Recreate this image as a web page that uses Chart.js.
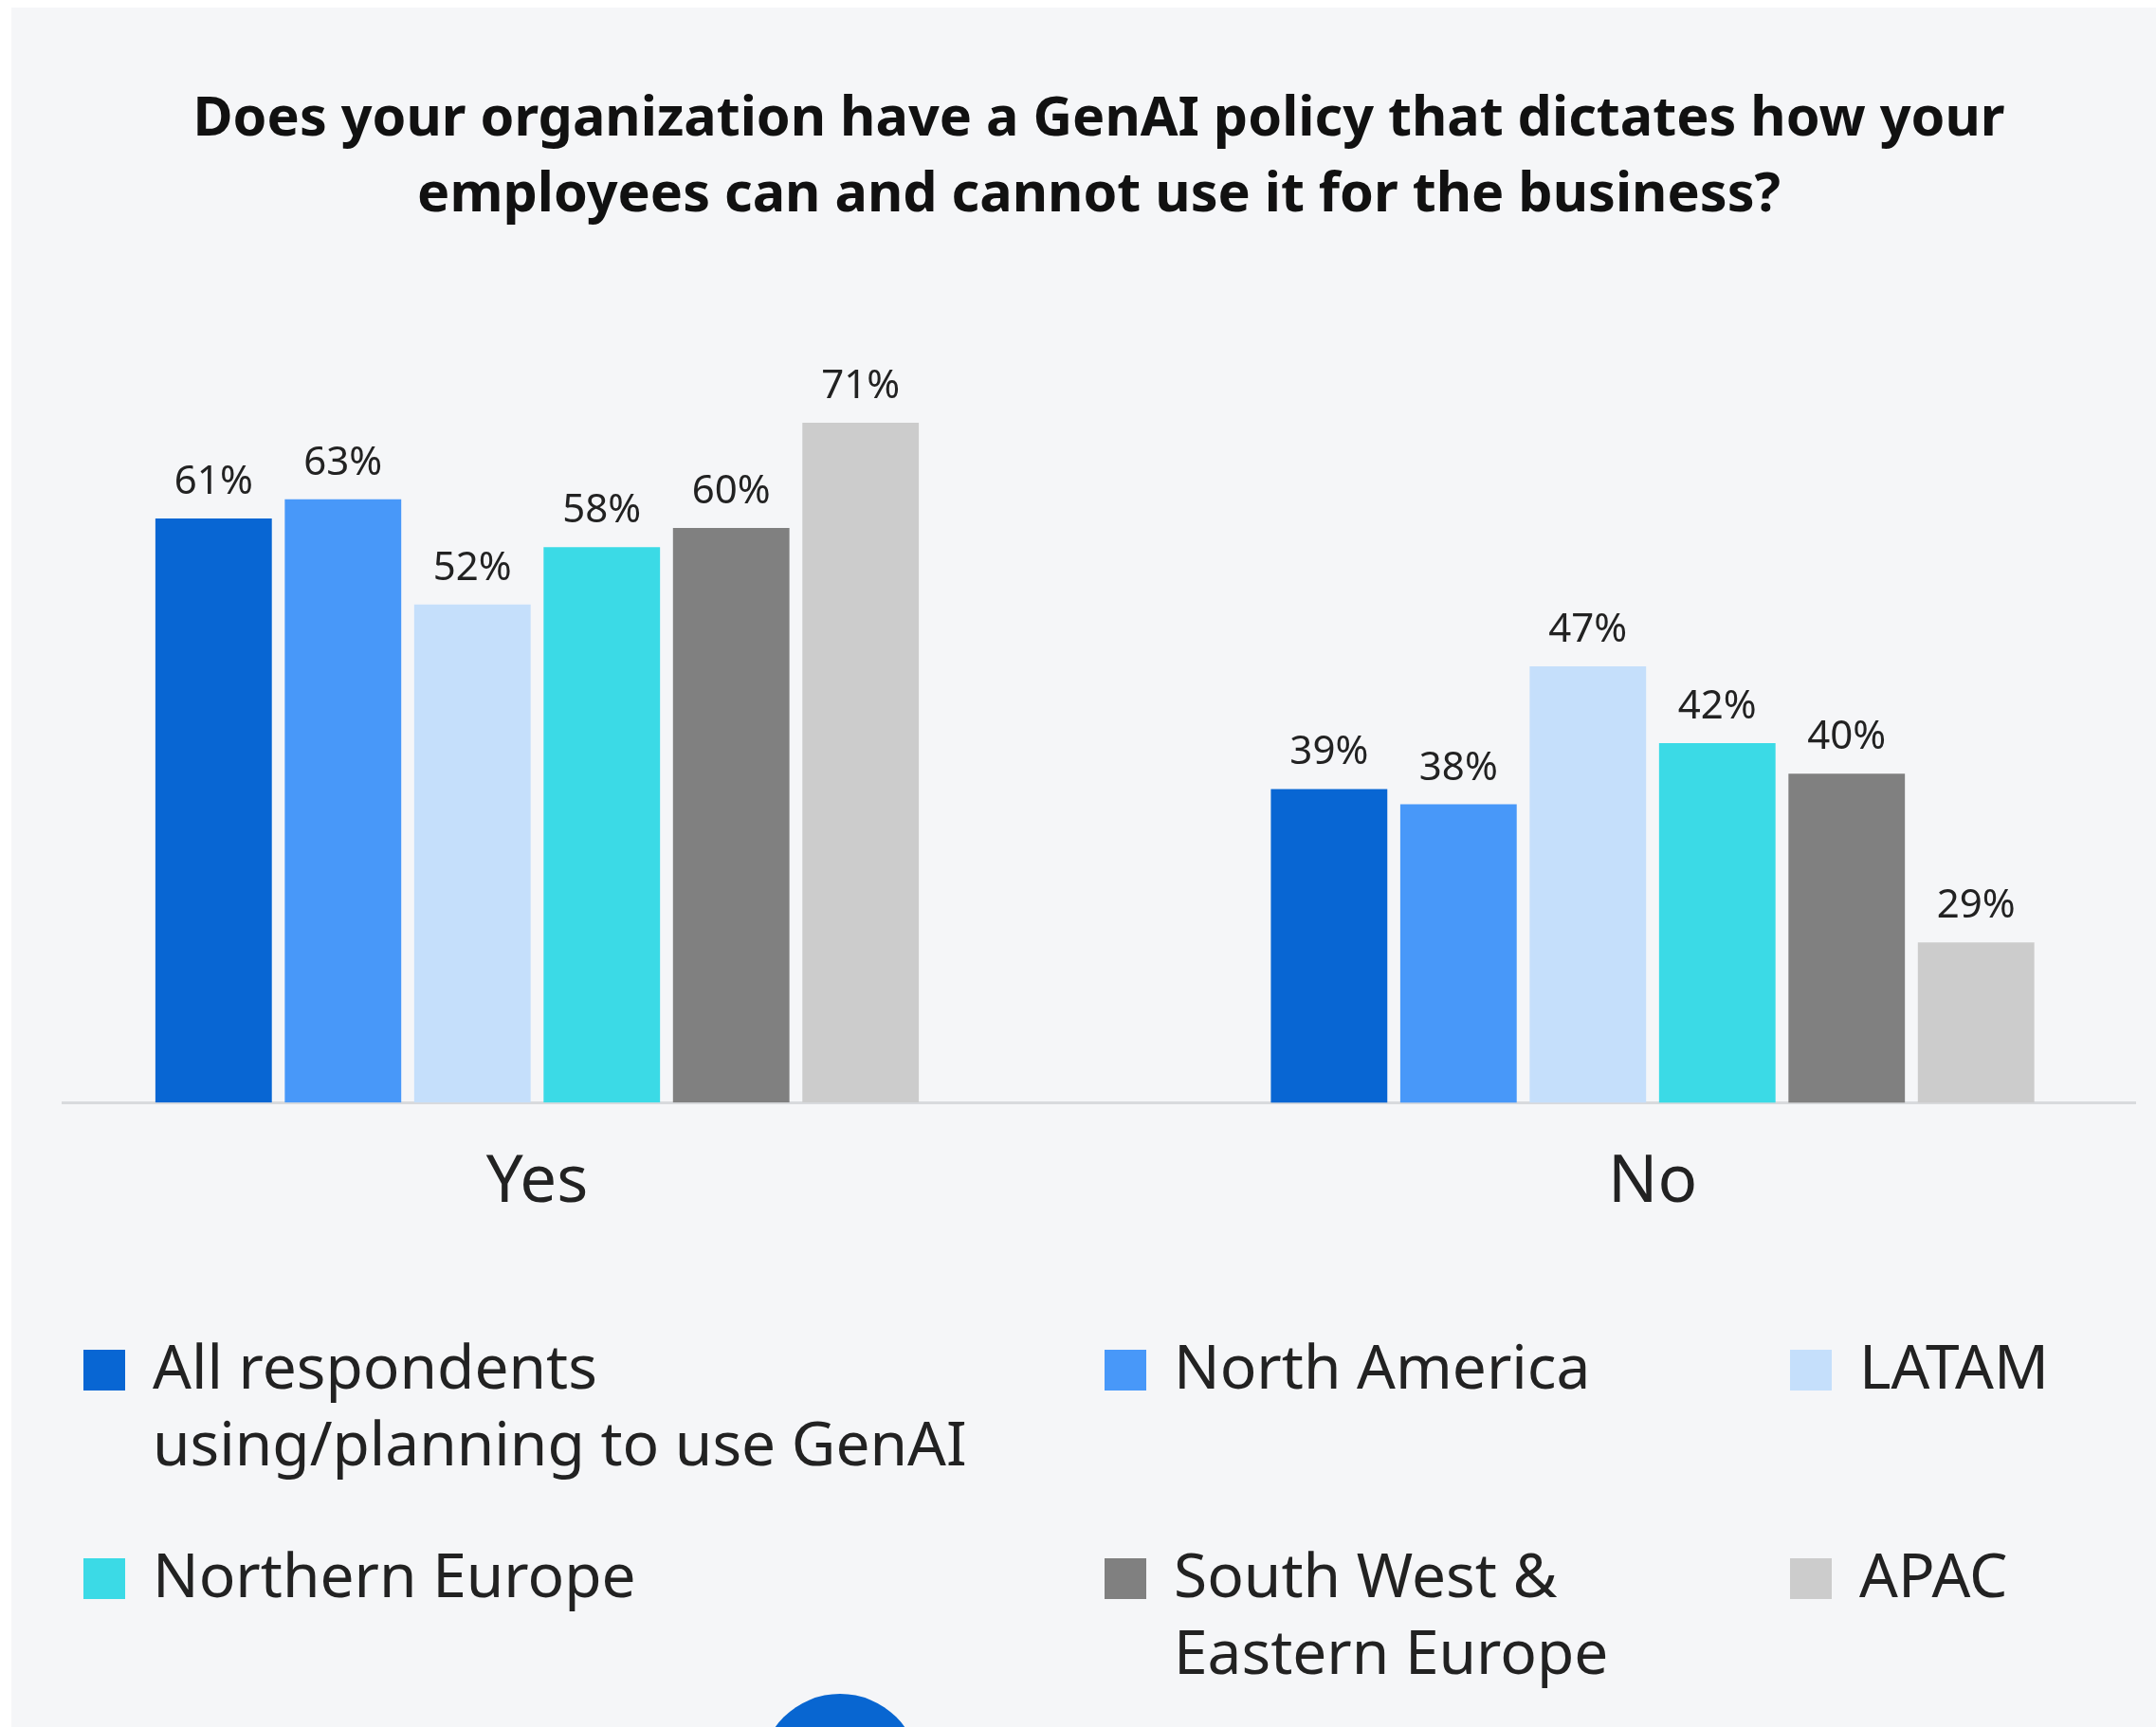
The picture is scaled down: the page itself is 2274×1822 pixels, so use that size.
<!DOCTYPE html>
<html>
<head>
<meta charset="utf-8">
<script src="https://cdn.jsdelivr.net/npm/chart.js@4.4.1/dist/chart.umd.min.js"></script>
<style>
  body { margin: 0; width: 2274px; height: 1822px; overflow: hidden; position: relative; background: #fff; font-family: "Noto Sans", sans-serif; }
  #panel { position: absolute; left: 12px; top: 8px; right: 0; bottom: 0; background: #f5f6f8; }
  #wrap { position: absolute; left: 0; top: 0; }
  #legend { position: absolute; left: 88px; top: 1400px; display: grid; grid-template-columns: 1077px 723px 330px; grid-template-rows: 220px 200px; }
  .item { display: flex; align-items: flex-start; font-size: 64px; line-height: 81px; color: #222; }
  .sw { flex: none; width: 44px; height: 43px; margin-top: 24px; margin-right: 29px; }
  #dot { position: absolute; left: 802px; top: 1787px; width: 168px; height: 168px; border-radius: 50%; background: #0866d1; }
</style>
</head>
<body>
<div id="panel"></div>
<div id="wrap"><canvas id="myChart" width="2274" height="1346"></canvas></div>
<div id="legend"></div>
<div id="dot"></div>
<script>
var categories = ["Yes", "No"];
var regions = ["All respondents using/planning to use GenAI", "North America", "LATAM",
               "Northern Europe", "South West & Eastern Europe", "APAC"];
var allRespondents = [61, 39];
var northAmerica = [63, 38];
var latam = [52, 47];
var northernEurope = [58, 42];
var swEasternEurope = [60, 40];
var apac = [71, 29];
var barColors = ["#0866d3", "#4898f9", "#c5dffb", "#3bdae6", "#808080", "#cccccc"];
var legendWidths = [880, 640, 330];

var seriesValues = [allRespondents, northAmerica, latam, northernEurope, swEasternEurope, apac];

// the "No" bars in the original sit on their own (cut) scale, so each group gets its own y axis
var axisFor = ["y", "y2"];
var datasets = [];
categories.forEach(function (cat, c) {
  seriesValues.forEach(function (vals, s) {
    datasets.push({
      label: regions[s],
      yAxisID: axisFor[c],
      backgroundColor: barColors[s],
      data: categories.map(function (_, k) { return { x: k, y: k === c ? vals[k] : null }; })
    });
  });
});

var pctLabels = {
  id: "pctLabels",
  afterDatasetsDraw: function (chart) {
    var ctx = chart.ctx;
    ctx.save();
    ctx.font = '42px "Noto Sans"';
    ctx.fillStyle = "#222";
    ctx.textAlign = "center";
    ctx.textBaseline = "alphabetic";
    chart.data.datasets.forEach(function (ds, i) {
      chart.getDatasetMeta(i).data.forEach(function (bar, j) {
        if (ds.data[j].y == null) return;
        ctx.fillText(ds.data[j].y + "%", bar.x, bar.y - 26);
      });
    });
    ctx.restore();
  }
};

new Chart("myChart", {
  type: "bar",
  data: { datasets: datasets },
  plugins: [pctLabels],
  options: {
    responsive: false,
    animation: false,
    skipNull: true,
    categoryPercentage: 0.696,
    barPercentage: 0.9,
    layout: { padding: { left: 66, right: 22, top: 0, bottom: 12 } },
    plugins: {
      legend: { display: false },
      tooltip: { enabled: false },
      title: {
        display: true,
        text: ["Does your organization have a GenAI policy that dictates how your",
               "employees can and cannot use it for the business?"],
        color: "#111",
        font: { family: "Noto Sans", weight: "bold", size: 57.5, lineHeight: 1.3913 },
        padding: { top: 87, bottom: 108 }
      }
    },
    scales: {
      x: {
        type: "linear",
        offset: false,
        min: -0.4254,
        max: 1.4326,
        grid: { display: false, drawTicks: false },
        border: { display: true, color: "#d8dadd", width: 3 },
        afterBuildTicks: function (scale) {
          scale.ticks = scale.ticks.filter(function (t) { return Number.isInteger(t.value); });
        },
        ticks: {
          stepSize: 1,
          autoSkip: false,
          maxRotation: 0,
          padding: 44,
          color: "#222",
          font: { family: "Noto Sans", size: 69, lineHeight: 1.2 },
          callback: function (v) { return categories[v]; }
        }
      },
      y: { display: false, min: 0, max: 80 },
      y2: { display: false, min: 18.55, max: 68.52 }
    },
    datasets: { bar: { clip: 0 } }
  }
});

// legend as real text, laid out in the original 3 x 2 grid
var legend = document.getElementById("legend");
regions.forEach(function (name, i) {
  var item = document.createElement("div");
  item.className = "item";
  var sw = document.createElement("span");
  sw.className = "sw";
  sw.style.background = barColors[i];
  var txt = document.createElement("span");
  txt.textContent = name;
  txt.style.maxWidth = legendWidths[i % 3] + "px";
  item.appendChild(sw);
  item.appendChild(txt);
  legend.appendChild(item);
});
</script>
</body>
</html>
